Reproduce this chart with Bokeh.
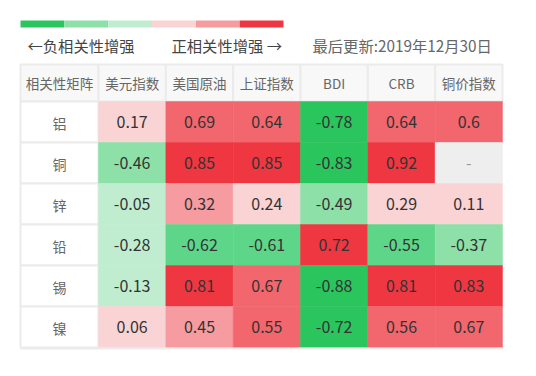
from bokeh.plotting import figure
from bokeh.models import Range1d, ColumnDataSource
from bokeh.core.properties import value
from bokeh.embed import file_html
from bokeh.resources import INLINE

# ---- data ----
metals = ["铝", "铜", "锌", "铅", "锡", "镍"]
indices = ["美元指数", "美国原油", "上证指数", "BDI", "CRB", "铜价指数"]
corner_label = "相关性矩阵"
v_al = [0.17, 0.69, 0.64, -0.78, 0.64, 0.6]
v_cu = [-0.46, 0.85, 0.85, -0.83, 0.92, None]
v_zn = [-0.05, 0.32, 0.24, -0.49, 0.29, 0.11]
v_pb = [-0.28, -0.62, -0.61, 0.72, -0.55, -0.37]
v_sn = [-0.13, 0.81, 0.67, -0.88, 0.81, 0.83]
v_ni = [0.06, 0.45, 0.55, -0.72, 0.56, 0.67]
matrix = [v_al, v_cu, v_zn, v_pb, v_sn, v_ni]
neg_label = "←负相关性增强"
pos_label = "正相关性增强 →"
update_label = "最后更新:2019年12月30日"

# ---- styling ----
FONT = value("Noto Sans CJK SC")
LEGEND_COLORS = ["#2BC55E", "#8CE0A8", "#C0EDD0", "#FAD3D5", "#F69CA1", "#EE3741"]


def cell_color(v):
    if v is None:
        return "#EEEEEE"
    if v < -0.7:
        return "#2BC55E"
    if v < -0.5:
        return "#5ED689"
    if v < -0.3:
        return "#8CE0A8"
    if v < 0:
        return "#C0EDD0"
    if v < 0.3:
        return "#FAD3D5"
    if v < 0.5:
        return "#F69CA1"
    if v < 0.7:
        return "#F2666D"
    return "#EE3741"


TABLE_LEFT = 20.0
FIRST_W = 78.0
COL_W = 67.33
HEAD_TOP = 64.0
HEAD_H = 37.0
ROW_H = 41.0

p = figure(width=536, height=376, x_range=Range1d(0, 536), y_range=Range1d(376, 0),
           toolbar_location=None, output_backend="svg", min_border=0,
           background_fill_color="white", border_fill_color="white")
p.axis.visible = False
p.grid.visible = False
p.outline_line_color = None

# legend color bar
nleg = len(LEGEND_COLORS)
seg = (283.0 - 20.0) / nleg
p.quad(left=[20 + i * seg for i in range(nleg)], right=[20 + (i + 1) * seg for i in range(nleg)],
       top=[20] * nleg, bottom=[27] * nleg, fill_color=LEGEND_COLORS, line_color=None)

p.text(x=[27], y=[44], text=[neg_label], text_font=FONT, text_font_size="15.3px",
       text_color="#444444", text_baseline="middle", text_align="left")
p.text(x=[171], y=[44], text=[pos_label], text_font=FONT, text_font_size="15.3px",
       text_color="#444444", text_baseline="middle", text_align="left")
p.text(x=[312], y=[44], text=[update_label], text_font=FONT, text_font_size="15.3px",
       text_color="#666666", text_baseline="middle", text_align="left")

# column geometry
col_lefts = [TABLE_LEFT] + [TABLE_LEFT + FIRST_W + i * COL_W for i in range(len(indices))]
col_rights = [TABLE_LEFT + FIRST_W] + [TABLE_LEFT + FIRST_W + (i + 1) * COL_W for i in range(len(indices))]

# header
headers = [corner_label] + indices
p.quad(left=col_lefts, right=col_rights, top=[HEAD_TOP] * len(headers),
       bottom=[HEAD_TOP + HEAD_H] * len(headers), fill_color="#F8F8F8",
       line_color="#EBEBEB", line_width=2)
p.text(x=[(l + r) / 2 for l, r in zip(col_lefts, col_rights)], y=[HEAD_TOP + HEAD_H / 2] * len(headers),
       text=headers, text_font=FONT, text_font_size="13.5px", text_color="#666666",
       text_align="center", text_baseline="middle")

# row labels
row_tops = [HEAD_TOP + HEAD_H + i * ROW_H for i in range(len(metals))]
p.quad(left=[col_lefts[0]] * len(metals), right=[col_rights[0]] * len(metals), top=row_tops,
       bottom=[t + ROW_H for t in row_tops], fill_color="white", line_color="#EBEBEB", line_width=2)
p.text(x=[(col_lefts[0] + col_rights[0]) / 2] * len(metals), y=[t + ROW_H / 2 + 1 for t in row_tops],
       text=metals, text_font=FONT, text_font_size="14px", text_color="#666666",
       text_align="center", text_baseline="middle")

# data cells
L, R, T, B, C, X, Y, S, TC = [], [], [], [], [], [], [], [], []
for ri, row in enumerate(matrix):
    for ci, v in enumerate(row):
        l, r = col_lefts[ci + 1], col_rights[ci + 1]
        t = row_tops[ri]
        L.append(l); R.append(r); T.append(t); B.append(t + ROW_H)
        C.append(cell_color(v))
        X.append((l + r) / 2); Y.append(t + ROW_H / 2)
        S.append("-" if v is None else "{:g}".format(v))
        TC.append("#999999" if v is None else "#333333")
src = ColumnDataSource(dict(l=L, r=R, t=T, b=B, c=C, x=X, y=Y, s=S, tc=TC))
p.quad(left="l", right="r", top="t", bottom="b", fill_color="c", line_color="c", line_width=0.5, source=src)
p.text(x="x", y="y", text="s", text_color="tc", text_font=FONT, text_font_size="16px",
       text_align="center", text_baseline="middle", source=src)

# bottom border
bottom_y = row_tops[-1] + ROW_H
p.segment(x0=[TABLE_LEFT], y0=[bottom_y + 1], x1=[col_rights[-1]], y1=[bottom_y + 1],
          line_color="#EBEBEB", line_width=2)

open("out.html", "w").write(file_html(p, INLINE))
